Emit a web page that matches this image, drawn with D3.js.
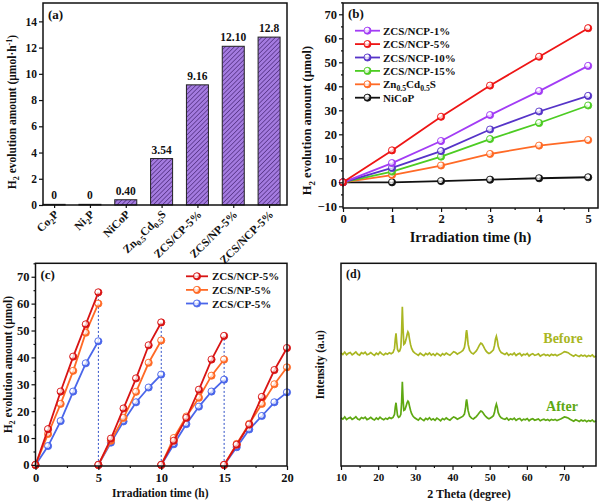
<!DOCTYPE html>
<html><head><meta charset="utf-8">
<script src="https://cdn.jsdelivr.net/npm/d3@7"></script>
<style>
body{margin:0;background:#fff}
text{font-family:"Liberation Serif","Times New Roman",serif;font-weight:bold;fill:#111}
</style>
</head><body>
<svg id="fig" width="600" height="502"></svg>
<script>
// ---------- Panel (a) data ----------
const barCats = ["Co_{2}P","Ni_{2}P","NiCoP","Zn_{0.5}Cd_{0.5}S","ZCS/CP-5%","ZCS/NP-5%","ZCS/NCP-5%"];
const barValues = [0.05,0.05,0.40,3.54,9.16,12.10,12.8];
const barLabels = ["0","0","0.40","3.54","9.16","12.10","12.8"];
const aTicks = [0,2,4,6,8,10,12,14];

// ---------- Panel (b) data ----------
const timeB = [0,1,2,3,4,5];
const seriesBNames = ["ZCS/NCP-1%","ZCS/NCP-5%","ZCS/NCP-10%","ZCS/NCP-15%","Zn_{0.5}Cd_{0.5}S","NiCoP"];
const ncp1B  = [0,8.0,17.2,28.0,38.0,48.5];
const ncp5B  = [0,13.3,27.3,40.3,52.3,64.2];
const ncp10B = [0,6.0,13.0,22.0,29.5,36.0];
const ncp15B = [0,4.5,10.7,18.0,24.7,32.0];
const zcsB   = [0,3.0,7.0,11.8,15.3,17.6];
const nicopB = [0,0.0,0.5,1.1,1.7,2.1];
const bYTicks = [-10,0,10,20,30,40,50,60,70];
const bXTicks = [0,1,2,3,4,5];

// ---------- Panel (c) data ----------
const timesC = [[0,1,2,3,4,5],[5,6,7,8,9,10],[10,11,12,13,14,15],[15,16,17,18,19,20]];
const seriesCNames = ["ZCS/NCP-5%","ZCS/NP-5%","ZCS/CP-5%"];
const ncp5C = [[0,13.3,27.3,40.3,52.3,64.2],[0,9.8,21.0,32.2,44.5,53.0],[0,9.0,17.5,28.0,39.2,48.0],[0,7.5,15.0,25.3,35.3,43.5]];
const np5C  = [[0,11.5,22.7,35.0,49.2,60.0],[0,9.0,17.5,27.2,38.0,46.3],[0,10.0,18.0,25.0,33.2,39.2],[0,7.8,15.3,22.7,30.0,36.3]];
const cp5C  = [[0,7.0,16.3,27.3,37.8,46.0],[0,8.3,16.2,23.3,28.8,33.6],[0,7.7,15.2,21.7,27.3,31.7],[0,6.6,13.2,18.2,23.3,27.0]];
const cycleEnds = [5,10,15];
const cycleEndTops = [64.2,53.0,48.0];
const cYTicks = [0,10,20,30,40,50,60,70];
const cXTicks = [0,5,10,15,20];

// ---------- Panel (d) data (XRD, hand-read) ----------
const theta = [
 10.0,10.5,11.0,11.5,12.0,12.5,13.0,13.5,14.0,14.5,15.0,15.5,16.0,16.5,17.0,17.5,18.0,18.5,19.0,19.5,20.0,20.5,21.0,21.5,22.0,22.5,23.0,23.5,
 24.0,24.4,24.6,24.8,25.0,25.2,25.5,25.8,26.1,26.3,26.5,26.7,26.9,27.2,27.5,27.8,28.0,28.2,28.4,28.7,29.0,29.4,29.8,
 30.3,30.8,31.3,31.8,32.3,32.8,33.3,33.8,34.3,34.8,35.3,35.8,36.3,36.8,37.3,37.8,38.3,38.8,39.3,39.8,40.3,40.8,41.3,41.8,42.3,42.8,
 43.2,43.5,43.65,43.8,43.95,44.2,44.6,
 45.1,45.6,46.0,46.4,46.8,47.2,47.6,47.9,48.2,48.6,49.0,49.4,49.8,50.2,50.6,51.0,51.3,51.55,51.8,52.05,52.3,52.7,53.1,53.6,
 54.1,54.6,55.1,55.6,56.1,56.6,57.1,57.6,58.1,58.6,59.1,59.6,60.1,60.6,61.1,61.6,62.1,62.6,63.1,63.6,64.1,64.6,65.1,65.6,66.1,66.6,67.1,67.6,68.1,68.6,
 69.1,69.6,70.1,70.6,71.1,71.6,72.1,72.6,73.1,73.6,74.1,74.6,75.1,75.6,76.1,76.6,77.1,77.6,78.1,78.6];
const before = [
 55.8,55.0,56.2,54.9,55.6,56.0,54.8,55.5,56.3,55.1,54.7,55.9,55.4,56.1,54.9,55.3,56.0,55.2,54.6,55.7,55.0,56.2,55.3,54.8,55.6,55.1,55.9,55.4,
 56.0,58.0,62.5,65.5,61.0,57.5,56.5,56.8,58.5,66.0,78.5,68.0,60.0,60.5,62.5,65.0,66.2,65.5,63.0,60.0,58.0,56.5,55.8,
 55.2,54.6,55.7,55.0,54.4,55.5,54.9,55.8,54.7,55.3,54.5,55.6,55.0,54.3,55.4,54.8,55.7,55.1,54.6,55.5,56.4,56.0,55.2,55.8,56.3,57.0,
 58.5,62.0,65.5,67.0,65.0,60.0,57.0,
 55.8,55.3,56.0,56.8,58.0,59.5,60.6,60.3,59.5,58.0,56.8,56.0,55.5,55.9,56.5,57.3,59.5,62.5,64.0,62.0,59.0,57.0,56.0,55.5,
 55.0,55.8,54.6,55.3,54.9,55.7,54.5,55.2,55.6,54.4,55.1,54.8,55.5,54.3,55.0,55.4,54.6,54.9,55.3,54.2,54.8,55.2,54.5,54.9,54.3,55.1,54.6,55.0,54.4,54.9,
 55.3,55.8,56.4,56.2,55.9,55.2,54.6,54.1,54.9,54.4,54.0,54.7,54.2,54.6,53.9,54.5,54.1,54.8,53.8,54.3];
const after = [
 23.8,23.1,24.2,22.9,23.6,24.0,23.0,23.5,24.3,23.2,22.8,23.9,23.4,24.1,22.9,23.3,24.0,23.2,22.7,23.7,23.0,24.1,23.3,22.8,23.6,23.1,23.9,23.4,
 24.0,25.5,29.0,31.2,28.0,25.0,24.0,24.3,25.5,31.0,41.5,33.0,27.5,27.8,29.5,31.3,32.0,31.5,29.8,27.5,25.8,24.5,23.8,
 23.2,22.6,23.7,23.0,22.4,23.5,22.9,23.8,22.7,23.3,22.5,23.6,23.0,22.3,23.4,22.8,23.7,23.1,22.6,23.5,24.2,23.8,23.1,23.6,24.0,24.6,
 25.6,28.5,31.5,32.9,31.0,27.3,24.6,
 23.6,23.2,23.8,24.4,25.3,26.3,27.1,26.9,26.3,25.2,24.3,23.7,23.3,23.7,24.2,24.8,26.5,29.0,30.5,28.8,26.3,24.6,23.8,23.3,
 23.0,23.7,22.6,23.3,22.9,23.6,22.5,23.2,23.5,22.4,23.1,22.8,23.4,22.3,23.0,23.3,22.6,22.9,23.2,22.3,22.8,23.1,22.5,22.9,22.3,23.0,22.6,23.0,22.4,22.8,
 23.2,23.7,24.2,24.0,23.7,23.1,22.6,22.1,22.8,22.4,22.0,22.7,22.2,22.6,21.9,22.5,22.1,22.7,21.8,22.3];
const dXTicks = [10,20,30,40,50,60,70];

// ---------- helpers ----------
const svg = d3.select("#fig");
svg.append("rect").attr("width",600).attr("height",502).attr("fill","#fff");
const defs = svg.append("defs");

function rich(sel, str, fs, subShift){
  const sub = subShift===undefined?0.3:subShift;
  const parts = str.split(/(_\{[^}]*\}|\^\{[^}]*\})/).filter(s=>s.length);
  let shift = 0;
  parts.forEach(p=>{
    let target=0, content=p, small=false;
    if(p.startsWith("_{")){target=sub;content=p.slice(2,-1);small=true;}
    else if(p.startsWith("^{")){target=-0.38;content=p.slice(2,-1);small=true;}
    const t = sel.append("tspan").text(content)
      .attr("font-size",(small?fs*0.7:fs)+"px");
    if(target!==shift){t.attr("dy",((target-shift)*fs).toFixed(2));shift=target;}
  });
  sel.attr("font-size",fs+"px");
  return sel;
}

function styleAxis(g, fs){
  g.selectAll(".domain").remove();
  g.selectAll("line").attr("stroke","#111").attr("stroke-width",1.2);
  g.selectAll("text").attr("font-size",fs+"px").attr("fill","#111")
    .style("font-family",'"Liberation Serif","Times New Roman",serif').style("font-weight","bold");
}

function frame(x0,y0,x1,y1){
  svg.append("rect").attr("x",x0).attr("y",y0).attr("width",x1-x0).attr("height",y1-y0)
    .attr("fill","none").attr("stroke","#111").attr("stroke-width",1.5);
}

function markerGrad(id,color){
  const g = defs.append("radialGradient").attr("id",id).attr("cx","40%").attr("cy","40%").attr("r","60%");
  g.append("stop").attr("offset","0%").attr("stop-color","#fff");
  g.append("stop").attr("offset","45%").attr("stop-color","#fff").attr("stop-opacity",0.6);
  g.append("stop").attr("offset","70%").attr("stop-color",color);
  g.append("stop").attr("offset","100%").attr("stop-color",color);
}

// ---------- Panel (a) ----------
(function(){
  const L=43,R=287,T=3,B=205;
  const x = d3.scaleLinear().domain([0.69,7.5]).range([L,R]);
  const y = d3.scaleLinear().domain([0,15.4]).range([B,T]);
  const pat = defs.append("pattern").attr("id","hatch").attr("patternUnits","userSpaceOnUse")
    .attr("width",3.2).attr("height",3.2).attr("patternTransform","rotate(-45)");
  pat.append("rect").attr("width",3.2).attr("height",3.2).attr("fill","#a47be0");
  pat.append("line").attr("x1",0).attr("y1",0).attr("x2",3.2).attr("y2",0).attr("stroke","#4a2878").attr("stroke-width",1.3);
  const bw = 22;
  svg.append("g").selectAll("rect").data(barValues).join("rect")
    .attr("x",(d,i)=>x(i+1)-bw/2).attr("width",bw)
    .attr("y",d=>y(d)).attr("height",d=>y(0)-y(d))
    .attr("fill","url(#hatch)").attr("stroke","#222").attr("stroke-width",1);
  svg.append("g").selectAll("text").data(barLabels).join("text")
    .attr("x",(d,i)=>x(i+1)).attr("y",(d,i)=>y(barValues[i])-5)
    .attr("text-anchor","middle").attr("font-size","11.5px").text(d=>d);
  const ya = svg.append("g").attr("transform",`translate(${L},0)`)
    .call(d3.axisLeft(y).tickValues(aTicks).tickSize(4).tickPadding(2).tickFormat(d3.format("d")));
  styleAxis(ya,11.5);
  const xa = svg.append("g").attr("transform",`translate(0,${B})`)
    .call(d3.axisBottom(x).tickValues(d3.range(1,8)).tickSize(3).tickFormat(""));
  styleAxis(xa,10);
  barCats.forEach((c,i)=>{
    const t = svg.append("text").attr("text-anchor","end")
      .attr("transform",`translate(${x(i+1)+5},${B+10}) rotate(-45)`);
    rich(t,c,11.5,0.25);
  });
  frame(L,T,R,B);
  svg.append("text").attr("x",L+5).attr("y",T+16).attr("font-size","13px").text("(a)");
  const yl = svg.append("text").attr("text-anchor","middle")
    .attr("transform",`translate(16,${(T+B)/2+8}) rotate(-90)`);
  rich(yl,"H_{2} evolution amount (μmol·h^{-1})",11.5);
})();

// ---------- Panel (b) ----------
(function(){
  const L=343,R=598,T=3,B=208;
  const x = d3.scaleLinear().domain([0,5.2]).range([L,R]);
  const y = d3.scaleLinear().domain([-10.7,74.7]).range([B,T]);
  const series = [ncp1B,ncp5B,ncp10B,ncp15B,zcsB,nicopB];
  const colors = ["#a23cf5","#ee1515","#5634c8","#4ccc22","#ff6a26","#111111"];
  colors.forEach((c,i)=>markerGrad("mb"+i,c));
  const line = d3.line().x((d,i)=>x(timeB[i])).y(d=>y(d));
  const order = [5,4,3,2,0,1];
  order.forEach(k=>{
    svg.append("path").attr("d",line(series[k])).attr("fill","none")
      .attr("stroke",colors[k]).attr("stroke-width",1.8);
    svg.append("g").selectAll("circle").data(series[k]).join("circle")
      .attr("cx",(d,i)=>x(timeB[i])).attr("cy",d=>y(d)).attr("r",3.6)
      .attr("fill",`url(#mb${k})`).attr("stroke",colors[k]).attr("stroke-width",0.8);
  });
  const ya = svg.append("g").attr("transform",`translate(${L},0)`)
    .call(d3.axisLeft(y).tickValues(bYTicks).tickSize(4).tickPadding(2).tickFormat(d3.format("d")));
  styleAxis(ya,12.5);
  const ym = svg.append("g").attr("transform",`translate(${L},0)`)
    .call(d3.axisLeft(y).tickValues(bYTicks.map(v=>v+5)).tickSize(2).tickFormat(""));
  styleAxis(ym,10);
  const xa = svg.append("g").attr("transform",`translate(0,${B})`)
    .call(d3.axisBottom(x).tickValues(bXTicks).tickSize(4).tickPadding(2).tickFormat(d3.format("d")));
  styleAxis(xa,12.5);
  const xm = svg.append("g").attr("transform",`translate(0,${B})`)
    .call(d3.axisBottom(x).tickValues(bXTicks.map(v=>v+0.5)).tickSize(2).tickFormat(""));
  styleAxis(xm,10);
  frame(L,T,R,B);
  svg.append("text").attr("x",L+5).attr("y",T+15).attr("font-size","13px").text("(b)");
  seriesBNames.forEach((n,i)=>{
    const yy = 30.7 + i*13.4;
    svg.append("line").attr("x1",355).attr("x2",380).attr("y1",yy).attr("y2",yy)
      .attr("stroke",colors[i]).attr("stroke-width",1.8);
    svg.append("circle").attr("cx",367.5).attr("cy",yy).attr("r",3.6)
      .attr("fill",`url(#mb${i})`).attr("stroke",colors[i]).attr("stroke-width",0.8);
    const t = svg.append("text").attr("x",383).attr("y",yy+4);
    rich(t,n,11,0.2);
  });
  const yl = svg.append("text").attr("text-anchor","middle")
    .attr("transform",`translate(311,${(T+B)/2+15}) rotate(-90)`);
  rich(yl,"H_{2} evolution amount (μmol)",12.5);
  svg.append("text").attr("x",(L+R)/2).attr("y",242).attr("text-anchor","middle")
    .attr("font-size","14.5px").text("Irradiation time (h)");
})();

// ---------- Panel (c) ----------
(function(){
  const L=35.5,R=287,T=263.3,B=466;
  const x = d3.scaleLinear().domain([0,20]).range([L,R]);
  const y = d3.scaleLinear().domain([-0.4,75]).range([B,T]);
  const colors = ["#d81414","#ff6a26","#4a66ea"];
  colors.forEach((c,i)=>markerGrad("mc"+i,c));
  cycleEnds.forEach((e,i)=>{
    svg.append("line").attr("x1",x(e)).attr("x2",x(e)).attr("y1",y(0)).attr("y2",y(cycleEndTops[i]))
      .attr("stroke","#3050c8").attr("stroke-width",1).attr("stroke-dasharray","2,2");
  });
  const all = [ncp5C,np5C,cp5C];
  [2,1,0].forEach(k=>{
    all[k].forEach((cyc,j)=>{
      const line = d3.line().x((d,i)=>x(timesC[j][i])).y(d=>y(d));
      svg.append("path").attr("d",line(cyc)).attr("fill","none")
        .attr("stroke",colors[k]).attr("stroke-width",1.8);
      svg.append("g").selectAll("circle").data(cyc).join("circle")
        .attr("cx",(d,i)=>x(timesC[j][i])).attr("cy",d=>y(d)).attr("r",3.6)
        .attr("fill",`url(#mc${k})`).attr("stroke",colors[k]).attr("stroke-width",0.8);
    });
  });
  const ya = svg.append("g").attr("transform",`translate(${L},0)`)
    .call(d3.axisLeft(y).tickValues(cYTicks).tickSize(4).tickPadding(2).tickFormat(d3.format("d")));
  styleAxis(ya,12.5);
  const ym = svg.append("g").attr("transform",`translate(${L},0)`)
    .call(d3.axisLeft(y).tickValues(cYTicks.map(v=>v+5)).tickSize(2).tickFormat(""));
  styleAxis(ym,10);
  const xa = svg.append("g").attr("transform",`translate(0,${B})`)
    .call(d3.axisBottom(x).tickValues(cXTicks).tickSize(4).tickPadding(3).tickFormat(d3.format("d")));
  styleAxis(xa,12.5);
  const xm = svg.append("g").attr("transform",`translate(0,${B})`)
    .call(d3.axisBottom(x).tickValues([2.5,7.5,12.5,17.5]).tickSize(2).tickFormat(""));
  styleAxis(xm,10);
  frame(L,T,R,B);
  svg.append("text").attr("x",L+5).attr("y",T+16).attr("font-size","13px").text("(c)");
  seriesCNames.forEach((n,i)=>{
    const yy = 276.3 + i*13.6;
    svg.append("line").attr("x1",186).attr("x2",208).attr("y1",yy).attr("y2",yy)
      .attr("stroke",colors[i]).attr("stroke-width",1.8);
    svg.append("circle").attr("cx",197).attr("cy",yy).attr("r",3.6)
      .attr("fill",`url(#mc${i})`).attr("stroke",colors[i]).attr("stroke-width",0.8);
    svg.append("text").attr("x",212).attr("y",yy+4).attr("font-size","11px").text(n);
  });
  const yl = svg.append("text").attr("text-anchor","middle")
    .attr("transform",`translate(12,${(T+B)/2}) rotate(-90)`);
  rich(yl,"H_{2} evolution amount (μmol)",11.5,0.25);
  svg.append("text").attr("x",(L+R)/2-1).attr("y",497).attr("text-anchor","middle")
    .attr("font-size","11.5px").text("Irradiation time (h)");
})();

// ---------- Panel (d) ----------
(function(){
  const L=341,R=596,T=263.3,B=466;
  const x = d3.scaleLinear().domain([10,78.6]).range([L,R]);
  const y = d3.scaleLinear().domain([0,100]).range([B,T]);
  const line = d3.line().x((d,i)=>x(theta[i])).y(d=>y(d));
  svg.append("path").attr("d",line(before)).attr("fill","none").attr("stroke","#a9b622").attr("stroke-width",1.7);
  svg.append("path").attr("d",line(after)).attr("fill","none").attr("stroke","#5ea812").attr("stroke-width",1.7);
  const xa = svg.append("g").attr("transform",`translate(0,${B})`)
    .call(d3.axisBottom(x).tickValues(dXTicks).tickSize(4).tickPadding(3).tickFormat(d3.format("d")));
  styleAxis(xa,11);
  const xm = svg.append("g").attr("transform",`translate(0,${B})`)
    .call(d3.axisBottom(x).tickValues([15,25,35,45,55,65,75]).tickSize(2).tickFormat(""));
  styleAxis(xm,10);
  frame(L,T,R,B);
  svg.append("text").attr("x",L+5).attr("y",T+15).attr("font-size","12px").text("(d)");
  svg.append("text").attr("x",563).attr("y",343).attr("text-anchor","middle").attr("font-size","14px")
    .style("fill","#a9b622").text("Before");
  svg.append("text").attr("x",562).attr("y",411).attr("text-anchor","middle").attr("font-size","14px")
    .style("fill","#5ea812").text("After");
  svg.append("text").attr("text-anchor","middle")
    .attr("transform",`translate(324,${(T+B)/2}) rotate(-90)`).attr("font-size","11.5px").text("Intensity (a.u)");
  svg.append("text").attr("x",469).attr("y",498).attr("text-anchor","middle")
    .attr("font-size","12px").text("2 Theta (degree)");
})();
</script>
</body></html>
